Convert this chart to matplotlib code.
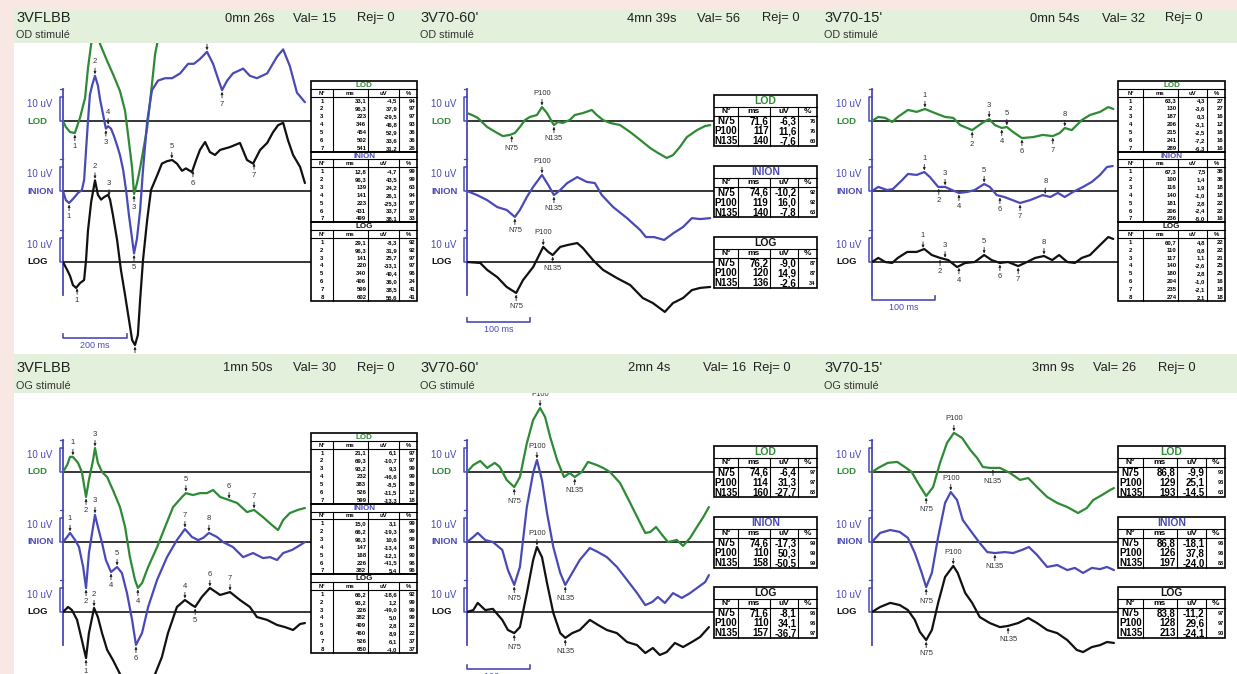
import numpy as np
import matplotlib
matplotlib.use('Agg')
import matplotlib.pyplot as plt
from matplotlib.patches import Rectangle
from matplotlib import font_manager as fm

plt.rcParams['font.family'] = ['Liberation Sans', 'DejaVu Sans']
plt.rcParams['axes.unicode_minus'] = False
try:
    fm.findfont('Liberation Sans Narrow', fallback_to_default=False)
    NARROW = ['Liberation Sans Narrow', 'Liberation Sans']
except Exception:
    NARROW = ['Liberation Sans', 'DejaVu Sans']

W, H = 1237, 674
GREEN, BLUE, BLACK = '#2e8a35', '#4a4ab6', '#111111'
PINK, BAND = '#f8e7e2', '#e3f0dc'
CH_COLORS = [GREEN, BLUE, BLACK]
CH_NAMES = ['LOD', 'INION', 'LOG']
UV_PX = 2.4

# ---------------- header texts ----------------
titles = ["3VFLBB", "3V70-60'", "3V70-15'", "3VFLBB", "3V70-60'", "3V70-15'"]
subtitles = ["OD stimulé"] * 3 + ["OG stimulé"] * 3
durations = ["0mn 26s", "4mn 39s", "0mn 54s", "1mn 50s", "2mn 4s", "3mn 9s"]
val_counts = [15, 56, 32, 30, 16, 26]
rej_counts = [0, 0, 0, 0, 0, 0]

# ---------------- traces (ms, uV) ----------------
p1_lod_ms = [0,9,22,37,53,69,78,88,100,116,138,156,178,194,203,216,222,231,241,263,278,288,294,309,366,522,756]
p1_lod_uv = [0,-2.5,-4.6,-5,1.3,9.6,22,32,42,32,25,19.6,12.5,4.2,-5.4,-19.6,-30.4,-26,-19.6,-2.9,15.4,28,32,46,58,62,60]
p1_inion_ms = [0,9,19,34,47,59,66,72,78,84,91,100,109,116,125,134,141,150,159,169,178,188,197,206,216,222,231,241,250,263,278,297,319,341,366,391,409,428,450,469,484,497,513,531,563,584,606,638,669,688,709,731,756]
p1_inion_uv = [0,-3.8,-5,-2.9,-0.8,0.4,4.6,17,29,40,44,48,44,38,32,26,27,26,23,19,15,8.8,0.4,-10,-20,-26,-20,-8,8.8,29,42,46,47,47,49,53,53,55,58,53,47,42,46,49,51,48,47,49,56,59,52,41,37]
p1_log_ms = [0,13,22,31,41,53,66,72,78,88,100,109,119,128,141,147,156,169,181,194,206,216,225,234,241,250,263,275,294,309,325,341,356,372,384,403,416,428,444,459,475,491,522,553,575,594,616,638,656,672,688,703,719,741,756]
p1_log_uv = [0,-3.3,-5.8,-9.6,-10.8,-8.8,-7.5,0.8,13,25,34,28,26,27,28,26,19.6,9.2,-3.3,-13.8,-24,-32.5,-34.6,-30.4,-15.8,0.8,17.5,30,36,41,42,42.5,41,38,39,37.5,42.5,46.7,50,45.8,44.6,46.7,47.9,49.6,42.5,41,46.7,49.6,54,57,58,50.8,44.6,39.6,32.9]

p2_lod_ms = [0,8,17,32,48,57,68,76,84,92,100,111,119,127,135,138,144,152,163,171,184,198,206,216,227,243,259,275,291,303,317,327,338,349,365,378,386]
p2_lod_uv = [3.3,2.5,1.3,-2.5,-5,-6.3,-5.8,-5,-2.5,0.4,1.7,2.5,5.8,3.3,-0.4,-1.7,-0.4,-0.8,0.4,2.5,3.3,4.6,2.5,0.4,-0.8,-1.7,-4.6,-7.9,-11.3,-13.3,-15.4,-14.2,-10.8,-6.7,-3.8,-2.1,-1.7]
p2_inion_ms = [0,16,32,48,63,76,84,95,105,119,129,138,148,159,175,190,203,214,232,254,275,284,297,313,328,343,357,370,386]
p2_inion_uv = [0,-1.7,-3.8,-6.7,-7.9,-10.8,-7.9,-2.5,1.7,6.7,2.5,-1.7,0.4,3.3,5.8,3.8,3.3,-1.7,-6.7,-11.3,-16.3,-19.2,-19.2,-20.4,-17.5,-15,-11.3,-11.7,-11.3]
p2_log_ms = [0,21,32,48,63,78,89,105,113,121,129,136,148,160,175,184,200,216,238,259,279,295,314,327,343,357,370,386]
p2_log_uv = [0,-0.4,-3.3,-6.3,-10.4,-12.9,-7.5,-2.1,2.1,6.3,4.2,2.9,6.3,7.1,7.9,5.8,0.8,-3.3,-6.7,-9.6,-15,-17.1,-20.8,-17.1,-15,-11.7,-10.8,-10.4]

p3_lod_ms = [0,10,21,32,41,57,71,84,100,116,129,140,159,175,186,195,206,214,224,238,256,271,287,298,306,317,333,346,362,375,383]
p3_lod_uv = [0,1.7,1.3,-0.4,1.7,4.6,3.8,5,3.3,1.7,1.3,-1.7,-3.8,-0.8,0.8,-1.7,-2.9,-2.5,-4.6,-7.1,-6.7,-5.8,-6.3,-5,-2.9,-3.8,0.4,2.5,3.8,5.8,5]
p3_inion_ms = [0,10,24,33,48,57,71,83,92,105,116,127,138,151,163,178,187,198,210,235,251,271,283,295,306,319,335,349,362,373,382]
p3_inion_uv = [0,1.7,0.4,0.8,4.6,7.1,6.7,7.9,5.8,1.7,1.7,0.4,-0.8,-0.4,0.4,2.9,1.7,-1.7,-2.5,-5,-3.8,-1.7,-2.5,-0.8,-2.5,-0.4,1.7,3.8,6.7,10,10.4]
p3_log_ms = [0,10,21,32,41,56,71,83,95,108,121,135,148,163,178,190,203,216,232,246,259,273,286,297,310,322,333,346,359,375,383]
p3_log_uv = [0,1.7,0,-0.4,1.7,4.2,4.2,5.4,2.9,1.7,0.8,-2.1,-0.4,0,2.9,0.8,-0.4,0,-1.7,0,1.7,2.5,0.8,2.9,0,-0.4,1.7,2.9,6.3,10.4,9.6]

p4_lod_ms = [0,13,22,31,47,59,72,81,94,100,109,122,138,156,178,194,209,225,234,247,266,294,319,344,372,384,406,428,450,469,491,519,544,575,597,625,653,672,688,709,734,756]
p4_lod_uv = [0,2.9,6.3,6.3,3.8,0,-10.4,-3.3,5,10,3.8,0,-2.1,-7.5,-14.6,-22.9,-35.4,-45,-48.3,-46.3,-39.6,-31.3,-22.9,-14.6,-10.4,-8.8,-9.6,-8.8,-8.8,-7.5,-10.4,-11.7,-12.9,-16.7,-15.8,-18.8,-22.1,-24.2,-20,-17.1,-15.8,-15]
p4_inion_ms = [0,13,22,38,50,63,72,81,94,100,109,122,134,150,169,184,200,216,228,247,266,294,325,356,381,403,422,438,456,481,500,531,563,594,625,647,669,688,716,741,756]
p4_inion_uv = [0,2.1,3.8,0.8,-2.1,-10.4,-19.2,-4.6,6.3,11.3,6.3,-0.4,-7.5,-12.5,-10.4,-12.9,-21.3,-32.5,-42.9,-37.9,-27.1,-15.8,-6.3,0.8,5.4,2.1,0.8,1.7,3.8,2.1,0,-2.1,-6.3,-4.6,-6.7,-6.3,-7.5,-4.6,-3.3,-1.3,0]
p4_log_ms = [0,16,28,44,59,72,81,94,97,109,122,138,156,178,200,231,263,288,309,328,356,381,403,413,434,459,491,522,553,584,606,638,669,694,719,741,756]
p4_log_uv = [0,2.1,0.8,-3.3,-11.7,-19.2,-8.8,-0.4,1.7,-2.1,-8.8,-15.8,-20,-25.8,-32.5,-35.4,-32.5,-25.8,-18.8,-8.8,2.1,5,2.9,2.1,6.3,10,7.1,8.3,5,2.1,-2.1,-3.3,-5.4,-6.3,-7.5,-5,-4.6]

p5_lod_ms = [0,10,21,32,44,52,63,75,84,95,105,116,124,132,143,154,163,171,182,192,206,216,227,243,259,275,283,291,300,310,319,333,343,354,365,375,384]
p5_lod_uv = [0,2.9,4.6,1.7,3.8,2.1,-3.3,-6.3,-2.1,12,21.7,26.7,22.9,14.6,5,-2.1,-0.4,-2.1,0,4.2,2.9,1.7,0,-4.6,-12.9,-21.3,-25.4,-25,-22.9,-26.3,-29.2,-28.3,-30.8,-27.5,-22.9,-18.8,-14.6]
p5_inion_ms = [0,10,17,29,41,56,65,75,84,95,105,111,119,127,137,148,156,167,179,195,208,222,238,254,270,283,294,303,314,327,341,354,367,378,384]
p5_inion_uv = [0,2.1,3.8,0.8,0,-3.3,-11.7,-17.9,-10.4,14.6,28.8,34.2,25.8,12.1,-2.1,-12.9,-17.9,-12.9,-7.5,-2.5,-4.2,-6.3,-10.4,-15.8,-21.3,-26.3,-25,-22.9,-25.4,-21.3,-23.3,-21.3,-18.8,-16.7,-13.8]
p5_log_ms = [0,10,17,29,41,56,65,75,84,95,105,111,119,127,137,148,156,167,179,195,208,222,238,254,270,283,295,306,317,330,343,357,370,384]
p5_log_uv = [0,0.8,3.8,0.8,1.3,-3.3,-7.5,-8.8,-6.3,7.9,21.7,27.1,22.9,12.1,-0.4,-8.8,-10.8,-8.8,-7.5,-3.3,-5.4,-7.5,-8.8,-12.5,-13.8,-17.1,-15,-17.9,-16.7,-12.9,-14.6,-12.5,-10.4,-6.3]

p6_lod_ms = [0,10,25,40,52,63,73,86,97,108,119,130,143,156,167,176,187,203,219,235,248,262,278,294,310,327,341,351,365,378,384]
p6_lod_uv = [0,1.7,3.8,4.2,2.1,0,-4.6,-10,-6.3,3.8,12.1,16.3,14.2,9.2,5.8,2.1,1.7,1.7,-0.4,-3.3,-2.5,-6.3,-10.4,-12.9,-14.6,-17.1,-15,-11.7,-9.6,-7.5,-6.7]
p6_inion_ms = [0,13,29,44,57,68,79,86,95,105,116,125,135,144,159,171,183,195,211,224,238,249,262,278,294,310,322,335,349,362,373,384]
p6_inion_uv = [0,3.8,5,4.2,1.7,-4.6,-12.9,-18.8,-12.9,2.1,16.3,20.8,17.5,9.2,3.8,-0.4,-4.2,-4.6,-4.2,-4.6,-3.3,-2.1,-5.4,-10.4,-9.6,-11.7,-10.8,-12.9,-10.8,-11.3,-10.4,-11.7]
p6_log_ms = [0,13,29,44,57,68,76,86,95,105,116,129,136,148,159,171,187,203,216,232,248,262,278,294,310,325,335,349,362,373,384]
p6_log_uv = [0,2.1,3.8,2.9,0.8,-3.3,-8.3,-11.7,-7.5,3.8,14.6,19.2,16.3,7.9,3.8,-2.1,-4.6,-6.3,-5.8,-4.6,-2.5,-4.6,-7.5,-8.8,-11.7,-15.8,-16.7,-14.6,-13.8,-12.5,-12.9]

# ---------------- peak markers: (channel, label, ms, above/below) ----------------
p1_markers = [(0,'1',37,'b'),(0,'3',222,'b'),
              (1,'1',19,'b'),(1,'2',100,'a'),(1,'3',134,'b'),(1,'4',141,'a'),(1,'5',222,'b'),(1,'6',450,'a'),(1,'7',497,'b'),
              (2,'1',44,'b'),(2,'2',100,'a'),(2,'3',144,'a'),(2,'4',225,'b'),(2,'5',340,'a'),(2,'6',406,'b'),(2,'7',597,'b')]
p2_markers = [(0,'N75',71,'b'),(0,'P100',119,'a'),(0,'N135',138,'b'),
              (1,'N75',76,'b'),(1,'P100',119,'a'),(1,'N135',138,'b'),
              (2,'N75',78,'b'),(2,'P100',121,'a'),(2,'N135',136,'b')]
p3_markers = [(0,'1',84,'a'),(0,'2',159,'b'),(0,'3',186,'a'),(0,'4',206,'b'),(0,'5',214,'a'),(0,'6',238,'b'),(0,'7',287,'b'),(0,'8',306,'a'),
              (1,'1',83,'a'),(1,'2',106,'b'),(1,'3',116,'a'),(1,'4',138,'b'),(1,'5',178,'a'),(1,'6',203,'b'),(1,'7',235,'b'),(1,'8',275,'a'),
              (2,'1',81,'a'),(2,'2',108,'b'),(2,'3',116,'a'),(2,'4',138,'b'),(2,'5',178,'a'),(2,'6',203,'b'),(2,'7',232,'b'),(2,'8',273,'a')]
p4_markers = [(0,'1',31,'a'),(0,'2',72,'b'),(0,'3',100,'a'),(0,'4',234,'b'),(0,'5',384,'a'),(0,'6',519,'a'),(0,'7',597,'a'),
              (1,'1',22,'a'),(1,'2',72,'b'),(1,'3',100,'a'),(1,'4',150,'b'),(1,'5',169,'a'),(1,'6',228,'b'),(1,'7',381,'a'),(1,'8',456,'a'),
              (2,'1',72,'b'),(2,'2',97,'a'),(2,'4',381,'a'),(2,'5',413,'b'),(2,'6',459,'a'),(2,'7',522,'a')]
p5_markers = [(0,'N75',75,'b'),(0,'P100',116,'a'),(0,'N135',171,'b'),
              (1,'N75',75,'b'),(1,'P100',111,'a'),(1,'N135',156,'b'),
              (2,'N75',75,'b'),(2,'P100',111,'a'),(2,'N135',156,'b')]
p6_markers = [(0,'N75',86,'b'),(0,'P100',130,'a'),(0,'N135',192,'b'),
              (1,'N75',86,'b'),(1,'P100',125,'a'),(1,'N135',195,'b'),
              (2,'N75',86,'b'),(2,'P100',129,'a'),(2,'N135',216,'b')]

# ---------------- result tables ----------------
p1_tab_lod = [('1','33,1','-4,5','94'),('2','96,3','37,9','97'),('3','223','-29,5','97'),('4','346','46,8','93'),('5','454','52,9','36'),('6','502','33,6','36'),('7','541','31,2','26')]
p1_tab_inion = [('1','12,8','-4,7','99'),('2','96,3','43,5','99'),('3','139','24,2','63'),('4','141','26,1','94'),('5','223','-25,3','97'),('6','431','33,7','97'),('7','499','38,1','33')]
p1_tab_log = [('1','29,1','-8,3','92'),('2','96,3','31,9','92'),('3','141','25,7','97'),('4','220','-33,1','97'),('5','340','40,4','96'),('6','406','36,0','24'),('7','599','38,5','41'),('8','602','55,6','41')]

p2_tab_lod = [('N75','71,6','-6,3','76'),('P100','117','11,6','76'),('N135','140','-7,6','60')]
p2_tab_inion = [('N75','74,6','-10,2','92'),('P100','119','16,0','92'),('N135','140','-7,8','63')]
p2_tab_log = [('N75','76,2','-9,0','87'),('P100','120','14,9','87'),('N135','136','-2,6','34')]

p3_tab_lod = [('1','63,3','4,3','27'),('2','130','-3,6','27'),('3','187','0,3','16'),('4','206','-3,1','12'),('5','215','-2,5','16'),('6','241','-7,2','16'),('7','289','-6,3','16')]
p3_tab_inion = [('1','67,3','7,5','36'),('2','100','1,4','36'),('3','116','1,9','18'),('4','140','-1,0','18'),('5','181','2,8','22'),('6','206','-2,4','22'),('7','236','-5,0','16')]
p3_tab_log = [('1','60,7','4,8','22'),('2','110','0,8','22'),('3','117','1,1','21'),('4','140','-2,6','25'),('5','180','2,8','25'),('6','204','-1,0','16'),('7','235','-2,1','18'),('8','274','2,1','18')]

p4_tab_lod = [('1','21,1','6,1','97'),('2','69,3','-10,7','97'),('3','93,2','9,3','99'),('4','232','-46,6','99'),('5','383','-8,5','89'),('6','526','-11,5','12'),('7','599','-13,3','18')]
p4_tab_inion = [('1','15,0','3,1','99'),('2','66,2','-19,3','99'),('3','96,3','10,6','99'),('4','147','-13,4','93'),('5','168','-12,1','90'),('6','226','-41,5','96'),('7','382','5,4','96')]
p4_tab_log = [('1','66,2','-18,6','92'),('2','93,2','1,2','99'),('3','226','-49,0','99'),('4','382','5,0','99'),('5','409','2,8','22'),('6','460','8,9','22'),('7','526','6,1','37'),('8','650','-4,0','37')]

p5_tab_lod = [('N75','74,6','-6,4','97'),('P100','114','31,3','97'),('N135','160','-27,7','88')]
p5_tab_inion = [('N75','74,6','-17,3','99'),('P100','110','50,3','99'),('N135','158','-50,5','99')]
p5_tab_log = [('N75','71,6','-8,1','96'),('P100','110','34,1','96'),('N135','157','-36,7','97')]

p6_tab_lod = [('N75','86,8','-9,9','93'),('P100','129','25,1','93'),('N135','193','-14,5','63')]
p6_tab_inion = [('N75','86,8','-18,1','96'),('P100','126','37,8','96'),('N135','197','-24,0','88')]
p6_tab_log = [('N75','83,8','-11,2','97'),('P100','128','29,6','97'),('N135','213','-24,1','90')]

traces = [
    [(p1_lod_ms, p1_lod_uv), (p1_inion_ms, p1_inion_uv), (p1_log_ms, p1_log_uv)],
    [(p2_lod_ms, p2_lod_uv), (p2_inion_ms, p2_inion_uv), (p2_log_ms, p2_log_uv)],
    [(p3_lod_ms, p3_lod_uv), (p3_inion_ms, p3_inion_uv), (p3_log_ms, p3_log_uv)],
    [(p4_lod_ms, p4_lod_uv), (p4_inion_ms, p4_inion_uv), (p4_log_ms, p4_log_uv)],
    [(p5_lod_ms, p5_lod_uv), (p5_inion_ms, p5_inion_uv), (p5_log_ms, p5_log_uv)],
    [(p6_lod_ms, p6_lod_uv), (p6_inion_ms, p6_inion_uv), (p6_log_ms, p6_log_uv)],
]
markers = [p1_markers, p2_markers, p3_markers, p4_markers, p5_markers, p6_markers]
tables = [
    (p1_tab_lod, p1_tab_inion, p1_tab_log), (p2_tab_lod, p2_tab_inion, p2_tab_log),
    (p3_tab_lod, p3_tab_inion, p3_tab_log), (p4_tab_lod, p4_tab_inion, p4_tab_log),
    (p5_tab_lod, p5_tab_inion, p5_tab_log), (p6_tab_lod, p6_tab_inion, p6_tab_log),
]

# ---------------- layout (pixels) ----------------
TOP_BASES = [121, 191, 262]
BOT_BASES = [472, 542, 612]
PANELS = [
    dict(x0=63, x1=311, top=43, bot=354, bases=TOP_BASES, pxms=0.32, bar=200, bar_y=338, small=True,
         tx=16, dx=225, vx=293, rx=357, hy=18.5, sy=35, tab_x=311, tab_y=[81], widths=[22, 35, 31, 18]),
    dict(x0=467, x1=714, top=43, bot=354, bases=TOP_BASES, pxms=0.63, bar=100, bar_y=322, small=False,
         tx=420, dx=627, vx=697, rx=762, hy=18.5, sy=35, tab_x=714, tab_y=[95, 166, 237], widths=[24, 32, 28, 19]),
    dict(x0=872, x1=1118, top=43, bot=354, bases=TOP_BASES, pxms=0.63, bar=100, bar_y=300, small=True,
         tx=824, dx=1030, vx=1102, rx=1165, hy=18.5, sy=35, tab_x=1118, tab_y=[81], widths=[25, 35, 29, 18]),
    dict(x0=63, x1=311, top=393, bot=674, bases=BOT_BASES, pxms=0.32, bar=None, bar_y=None, small=True,
         tx=16, dx=223, vx=293, rx=357, hy=368, sy=386, tab_x=311, tab_y=[433], widths=[22, 35, 31, 18]),
    dict(x0=467, x1=714, top=393, bot=674, bases=BOT_BASES, pxms=0.63, bar=100, bar_y=669, small=False,
         tx=420, dx=628, vx=703, rx=753, hy=368, sy=386, tab_x=714, tab_y=[446, 517, 587], widths=[24, 32, 28, 19]),
    dict(x0=872, x1=1118, top=393, bot=674, bases=BOT_BASES, pxms=0.63, bar=None, bar_y=None, small=False,
         tx=824, dx=1032, vx=1093, rx=1158, hy=368, sy=386, tab_x=1118, tab_y=[446, 517, 587], widths=[25, 34, 29, 19]),
]

fig = plt.figure(figsize=(W / 100, H / 100), dpi=100)
fig.patch.set_facecolor(PINK)
bg = fig.add_axes([0, 0, 1, 1], label='bg', zorder=0)
bg.set_xlim(0, W); bg.set_ylim(H, 0); bg.axis('off')
bg.add_patch(Rectangle((14, 10), W - 14, H - 10, facecolor='white', edgecolor='none'))

ov = fig.add_axes([0, 0, 1, 1], label='overlay', zorder=5)
ov.set_xlim(0, W); ov.set_ylim(H, 0); ov.axis('off'); ov.patch.set_alpha(0)
ov.add_patch(Rectangle((14, 10), W - 14, 33, facecolor=BAND, edgecolor='none', zorder=1))
ov.add_patch(Rectangle((14, 354), W - 14, 39, facecolor=BAND, edgecolor='none', zorder=1))


def draw_section(x, y, widths, hs, title, color, rows, fs, fs_title, fs_head, fs_pct, family):
    h_t, h_h, h_r = hs
    tw = sum(widths)
    th = h_t + h_h + len(rows) * h_r
    ov.add_patch(Rectangle((x, y), tw, th, fill=False, edgecolor='black', lw=1.2, zorder=3))
    for yy in (y + h_t, y + h_t + h_h):
        ov.plot([x, x + tw], [yy, yy], color='black', lw=0.8, zorder=3)
    xs = np.cumsum([x] + widths)
    for xv in xs[1:-1]:
        ov.plot([xv, xv], [y + h_t, y + th], color='black', lw=0.8, zorder=3)
    ov.text(x + tw / 2, y + h_t / 2 + 0.5, title, color=color, fontweight='bold', fontsize=fs_title,
            ha='center', va='center', family=family, zorder=4)
    for j, hd in enumerate(['N°', 'ms', 'uV', '%']):
        ov.text((xs[j] + xs[j + 1]) / 2, y + h_t + h_h / 2 + 0.5, hd, fontsize=fs_head, ha='center',
                va='center', fontweight='bold', family=family, zorder=4)
    for r, row in enumerate(rows):
        yc = y + h_t + h_h + (r + 0.5) * h_r + 0.5
        ov.text((xs[0] + xs[1]) / 2, yc, row[0], ha='center', va='center', fontsize=fs,
                fontweight='bold', family=family, zorder=4)
        ov.text(xs[2] - 1.5, yc, row[1], ha='right', va='center', fontsize=fs, fontweight='bold',
                family=family, zorder=4)
        ov.text(xs[3] - 1.5, yc, row[2], ha='right', va='center', fontsize=fs, fontweight='bold',
                family=family, zorder=4)
        ov.text(xs[4] - 1.5, yc, row[3], ha='right', va='center', fontsize=fs_pct, fontweight='bold',
                family=family, zorder=4)
    return y + th


for i, L in enumerate(PANELS):
    bases = L['bases']
    offs = [(bases[0] - b) / UV_PX for b in bases]
    ax = fig.add_axes([L['x0'] / W, 1 - L['bot'] / H, (L['x1'] - L['x0']) / W, (L['bot'] - L['top']) / H],
                      label=f'panel{i}', zorder=2)
    ax.set_xlim(0, (L['x1'] - L['x0']) / L['pxms'])
    ax.set_ylim((bases[0] - L['bot']) / UV_PX, (bases[0] - L['top']) / UV_PX)
    ax.axis('off'); ax.patch.set_alpha(0)
    dx = 3.2 / L['pxms']
    # vertical amplitude axis and 10 uV brackets
    ax.plot([0, 0], [offs[0] + 13.5, offs[2] - 13.8], color=BLUE, lw=1.3, clip_on=False, zorder=2)
    for c in range(3):
        ax.plot([0, -dx, -dx, 0], [offs[c] + 10, offs[c] + 10, offs[c], offs[c]], color=BLUE, lw=1.1,
                clip_on=False, zorder=2)
        ax.plot([-dx * 0.8, 0], [offs[c] + 13.2, offs[c] + 13.2], color=BLUE, lw=0.9, clip_on=False, zorder=2)
        ax.axhline(offs[c], color='black', lw=1.1, zorder=1)
        ms, uv = traces[i][c]
        ax.plot(ms, np.asarray(uv) + offs[c], color=CH_COLORS[c], lw=1.6, zorder=3,
                solid_joinstyle='round', solid_capstyle='round')
    # time scale bar
    if L['bar']:
        yb = (bases[0] - L['bar_y']) / UV_PX
        ax.plot([0, 0, L['bar'], L['bar']], [yb + 1.5, yb, yb, yb + 1.5], color=BLUE, lw=1.2,
                clip_on=False, zorder=2)
        ax.annotate(f"{L['bar']} ms", (L['bar'] / 2, yb), xytext=(0, -2.5), textcoords='offset points',
                    ha='center', va='top', color=BLUE, fontsize=6.5)
    # peak markers
    mfs = 5.5
    for (c, lab, t, side) in markers[i]:
        ms, uv = traces[i][c]
        y = np.interp(t, ms, uv) + offs[c]
        s = 1 if side == 'a' else -1
        ax.annotate(lab, xy=(t, y), xytext=(0, s * 7.5), textcoords='offset points', ha='center',
                    va='bottom' if s > 0 else 'top', fontsize=mfs, color='#333333', zorder=4,
                    arrowprops=dict(arrowstyle='-|>', color='#222222', lw=0.6, mutation_scale=3.5,
                                    shrinkA=0, shrinkB=1.2))
    # channel labels
    lx = L['x0'] - 36
    for c in range(3):
        ov.text(lx, bases[c] - 17, '10 uV', color=BLUE, fontsize=7, ha='left', va='center', zorder=4)
        ov.text(lx, bases[c], CH_NAMES[c], color=CH_COLORS[c], fontsize=6.8, fontweight='bold',
                ha='left', va='center', zorder=4)
    # header texts
    ov.text(L['tx'], L['hy'], titles[i], fontsize=10.5, ha='left', va='center', color='#222222', zorder=4)
    ov.text(L['tx'], L['sy'], subtitles[i], fontsize=7.8, ha='left', va='center', color='#333333', zorder=4)
    ov.text(L['dx'], L['hy'], durations[i], fontsize=9.3, ha='left', va='center', color='#222222', zorder=4)
    ov.text(L['vx'], L['hy'], f"Val= {val_counts[i]}", fontsize=9.3, ha='left', va='center',
            color='#222222', zorder=4)
    ov.text(L['rx'], L['hy'], f"Rej= {rej_counts[i]}", fontsize=9.3, ha='left', va='center',
            color='#222222', zorder=4)
    # tables
    if L['small']:
        y0 = L['tab_y'][0]
        for c in range(3):
            y0 = draw_section(L['tab_x'], y0, L['widths'], (7.85, 7.85, 7.85), CH_NAMES[c], CH_COLORS[c],
                              tables[i][c], 4.3, 5.8, 4.3, 4.3, NARROW)
    else:
        for c in range(3):
            draw_section(L['tab_x'], L['tab_y'][c], L['widths'], (11.5, 9.5, 10), CH_NAMES[c], CH_COLORS[c],
                         tables[i][c], 7.0, 7.5, 6.0, 4.0, NARROW)

fig.savefig('out.png', dpi=100, facecolor=fig.get_facecolor())
